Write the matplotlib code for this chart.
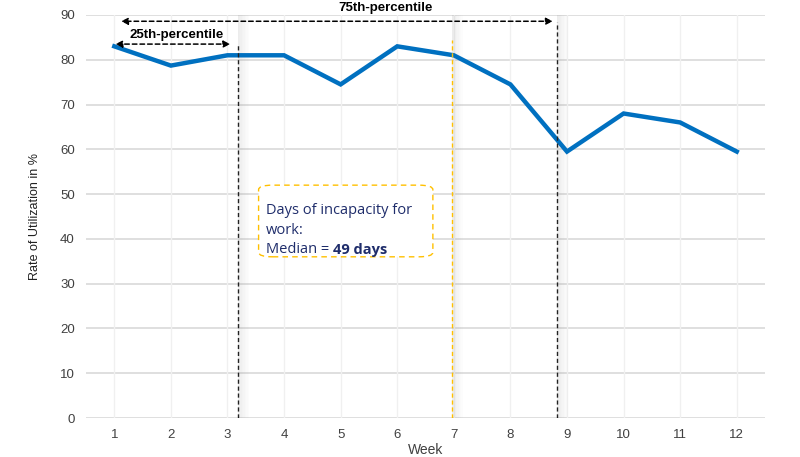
import matplotlib.pyplot as plt
from matplotlib.patches import FancyBboxPatch

weeks = [1, 2, 3, 4, 5, 6, 7, 8, 9, 10, 11, 12]
utilization = [83, 78.7, 81, 81, 74.5, 83, 81, 74.5, 59.5, 68, 66, 59.5]

p25_week = 3.18
median_week = 6.96
p75_week = 8.82

plt.rcParams['font.family'] = ['Liberation Sans Narrow', 'Liberation Sans', 'DejaVu Sans']

fig = plt.figure(figsize=(8, 4.57), dpi=100)
ax = fig.add_axes([0.1075, 0.0853, 0.8488, 0.8819])

ax.set_xlim(0.5, 12.5)
ax.set_ylim(0, 90)
ax.set_xticks(weeks)
ax.set_yticks(range(0, 91, 10))
for y in range(0, 91, 10):
    ax.axhline(y, color='#d9d9d9', lw=1.2, zorder=0)
for w in weeks:
    ax.axvline(w, color='#f0f0f0', lw=1, zorder=0)
for s in ax.spines.values():
    s.set_visible(False)
ax.tick_params(length=0, labelsize=9.5, colors='#404040', pad=8)
ax.set_xlabel('Week', fontsize=10, color='#404040', labelpad=1)
ax.set_ylabel('Rate of Utilization in %', fontsize=9, color='#202020', labelpad=14)

# soft shadows to the right of the marker lines
for xw in (p25_week, median_week, p75_week):
    for i in range(8):
        ax.axvspan(xw + i * 0.025, xw + (i + 1) * 0.025, color='#8a8a8a',
                   alpha=0.16 * (1 - i / 8), lw=0, zorder=0.5)

ax.plot(weeks, utilization, color='#0070c0', lw=3.2, zorder=3, solid_joinstyle='miter')

ax.plot([p25_week, p25_week], [0, 83.3], color='#222222', lw=1, ls=(0, (3, 2)), zorder=4)
ax.plot([median_week, median_week], [0, 84.5], color='#ffc000', lw=1, ls=(0, (3, 2)), zorder=4)
ax.plot([p75_week, p75_week], [0, 88.5], color='#222222', lw=1, ls=(0, (3, 2)), zorder=4)

arrow = dict(arrowstyle='<|-|>', color='black', lw=1.1, ls=(0, (3, 2)),
             shrinkA=0, shrinkB=0, mutation_scale=10)
ax.annotate('', xy=(1.02, 83.5), xytext=(3.05, 83.5), arrowprops=arrow, zorder=5)
ax.annotate('', xy=(1.12, 88.6), xytext=(8.75, 88.6), arrowprops=arrow, zorder=5)
ax.text(2.1, 85.6, '25th-percentile', fontsize=9.5, fontweight='bold',
        ha='center', va='center', family=['Liberation Sans', 'DejaVu Sans'])
ax.text(5.8, 91.5, '75th-percentile', fontsize=9.5, fontweight='bold',
        ha='center', va='center', family=['Liberation Sans', 'DejaVu Sans'], clip_on=False)

box = FancyBboxPatch((3.55, 36.0), 3.08, 16.0, boxstyle='round,pad=0,rounding_size=0.25',
                     mutation_aspect=4.0, fc='white', ec='#ffc000', lw=1, ls=(0, (4, 3)), zorder=4)
ax.add_patch(box)
navy = '#1f2d6b'
tfam = ['Open Sans', 'DejaVu Sans']
ax.text(3.68, 45.6, 'Days of incapacity for', fontsize=10.5, color=navy, va='baseline', family=tfam, zorder=5)
ax.text(3.68, 41.2, 'work:', fontsize=10.5, color=navy, va='baseline', family=tfam, zorder=5)
t = ax.text(3.68, 36.8, 'Median = ', fontsize=10.5, color=navy, va='baseline', family=tfam, zorder=5)
ax.annotate('49 days', xy=(1, 0), xycoords=t, va='bottom', ha='left', fontsize=10.5,
            color=navy, fontweight='bold', family=tfam, zorder=5)

fig.savefig('out.png', dpi=100, facecolor='white')
